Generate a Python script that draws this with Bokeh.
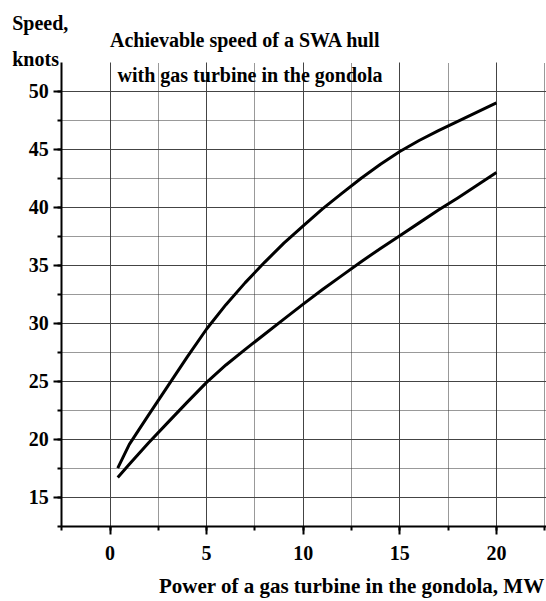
from bokeh.plotting import figure
from bokeh.models import Label, SingleIntervalTicker, Range1d
from bokeh.embed import file_html
from bokeh.resources import INLINE

# Data
power_upper = [0.4, 1, 2, 3, 4, 5, 6, 7, 8, 9, 10, 11, 12, 13, 14, 15, 16, 17, 18, 19, 20]
speed_upper = [17.5, 19.55, 22.1, 24.6, 27.1, 29.5, 31.6, 33.5, 35.25, 36.9, 38.4, 39.85, 41.2,
               42.5, 43.7, 44.8, 45.75, 46.6, 47.4, 48.2, 49.0]
power_lower = [0.4, 1, 2, 3, 4, 5, 6, 7, 8, 9, 10, 11, 12, 13, 14, 15, 16, 17, 18, 19, 20]
speed_lower = [16.7, 17.85, 19.7, 21.45, 23.2, 24.9, 26.4, 27.75, 29.05, 30.35, 31.65, 32.9,
               34.1, 35.3, 36.45, 37.55, 38.65, 39.75, 40.8, 41.9, 43.0]

title_lines = ["Achievable speed of a SWA hull", "with gas turbine in the gondola"]
y_title_lines = ["Speed,", "knots"]
x_title = "Power of a gas turbine in the gondola, MW"

x_axis_bounds = (-2.5, 22.6)
y_axis_bounds = (12.45, 52.48)

FONT = "Liberation Serif"

p = figure(width=546, height=601, output_backend="svg", toolbar_location=None,
           x_range=Range1d(-5.668, 22.593), y_range=Range1d(6.01, 57.82),
           min_border=0)
p.title = None
p.outline_line_color = None
p.background_fill_color = "white"
p.border_fill_color = "white"

p.xaxis.fixed_location = y_axis_bounds[0]
p.yaxis.fixed_location = x_axis_bounds[0]
p.xaxis.bounds = x_axis_bounds
p.yaxis.bounds = y_axis_bounds

for ax in (p.xaxis, p.yaxis):
    ax.ticker = SingleIntervalTicker(interval=5, num_minor_ticks=2)
    ax.axis_line_width = 2
    ax.axis_line_color = "black"
    ax.major_tick_line_width = 2
    ax.major_tick_line_color = "black"
    ax.major_tick_in = 0
    ax.major_tick_out = 8
    ax.minor_tick_line_width = 2
    ax.minor_tick_line_color = "black"
    ax.minor_tick_in = 0
    ax.minor_tick_out = 4
    ax.major_label_text_font = FONT
    ax.major_label_text_font_style = "bold"
    ax.major_label_text_font_size = "20px"
    ax.major_label_text_color = "black"
p.yaxis.major_label_standoff = 5
p.xaxis.major_label_standoff = 11

p.xgrid.bounds = x_axis_bounds
p.xgrid.cross_bounds = y_axis_bounds
p.ygrid.bounds = y_axis_bounds
p.ygrid.cross_bounds = x_axis_bounds
for g in (p.xgrid, p.ygrid):
    g.ticker = SingleIntervalTicker(interval=5, num_minor_ticks=2)
    g.grid_line_color = "#444444"
    g.grid_line_width = 1
    g.minor_grid_line_color = "#333333"
    g.minor_grid_line_width = 1
    g.minor_grid_line_dash = "1 1"

p.line(power_upper, speed_upper, line_color="black", line_width=3, line_join="round")
p.line(power_lower, speed_lower, line_color="black", line_width=3, line_join="round")

common = dict(text_font=FONT, text_font_style="bold", text_font_size="20px",
              text_color="black", text_baseline="alphabetic")

p.add_layout(Label(x=-5.06, y=55.92, text=y_title_lines[0], text_align="left", **common))
p.add_layout(Label(x=-5.06, y=52.81, text=y_title_lines[1], text_align="left", **common))
p.add_layout(Label(x=0.0, y=54.39, text=title_lines[0], text_align="left", **common))
p.add_layout(Label(x=0.39, y=51.39, text=title_lines[1], text_align="left", **common))
xl = dict(common)
xl["text_font_size"] = "21px"
p.add_layout(Label(x=22.49, y=7.38, text=x_title, text_align="right", **xl))

open("out.html", "w").write(file_html(p, INLINE))
